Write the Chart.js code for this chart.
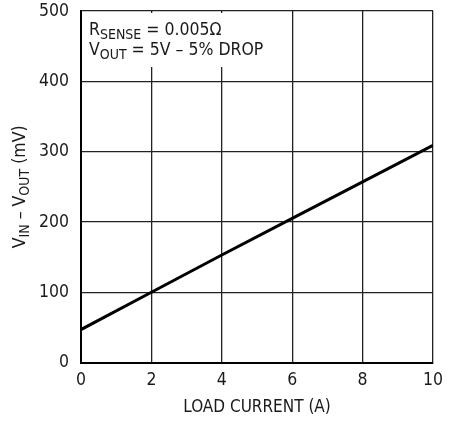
<!DOCTYPE html>
<html>
<head>
<meta charset="utf-8">
<script src="https://cdn.jsdelivr.net/npm/chart.js@4.4.0/dist/chart.umd.min.js"></script>
<style>
  html, body { margin: 0; padding: 0; background: #fff; }
  #wrap { width: 456px; height: 423px; }
</style>
</head>
<body>
<div id="wrap"><canvas id="myChart" width="456" height="423"></canvas></div>
<script>
// values
const loadCurrent = [0, 2, 4, 6, 8, 10];
const dropMv = [47, 100, 153, 205, 257, 309];
const xTicks = [0, 2, 4, 6, 8, 10];
const yTicks = [0, 100, 200, 300, 400, 500];

const FONT = "'Liberation Sans Narrow', 'DejaVu Sans Condensed', sans-serif";
const INK = "#1a1a1a";

// draws text with a subscript part, list of [text, isSub]
function drawParts(ctx, parts, x, y, size) {
  let cx = x;
  for (let p of parts) {
    ctx.font = (p[1] ? size * 0.8 : size) + "px " + FONT;
    ctx.fillText(p[0], cx, p[1] ? y + size * 0.25 : y);
    cx += ctx.measureText(p[0]).width;
  }
  return cx - x;
}
function partsWidth(ctx, parts, size) {
  let w = 0;
  for (let p of parts) {
    ctx.font = (p[1] ? size * 0.8 : size) + "px " + FONT;
    w += ctx.measureText(p[0]).width;
  }
  return w;
}

const labelsPlugin = {
  id: "labels",
  afterDraw(chart) {
    const ctx = chart.ctx;
    const area = chart.chartArea;
    ctx.save();
    ctx.fillStyle = INK;
    ctx.textBaseline = "alphabetic";

    // note box in top left
    ctx.fillStyle = "#fff";
    ctx.fillRect(area.left + 2, area.top + 2, 176, 54);
    ctx.fillStyle = INK;
    drawParts(ctx, [["R", false], ["SENSE", true], [" = 0.005\u03A9", false]], area.left + 8, area.top + 24, 17.5);
    drawParts(ctx, [["V", false], ["OUT", true], [" = 5V \u2013 5% DROP", false]], area.left + 8, area.top + 44, 17.5);

    // y axis title, rotated
    const yParts = [["V", false], ["IN", true], [" \u2013 V", false], ["OUT", true], [" (mV)", false]];
    const w = partsWidth(ctx, yParts, 17.5);
    ctx.translate(25, (area.top + area.bottom) / 2 + w / 2);
    ctx.rotate(-Math.PI / 2);
    drawParts(ctx, yParts, 0, 0, 17.5);
    ctx.restore();
  }
};

const config = {
  type: "scatter",
  data: {
    datasets: [
      {
        data: loadCurrent.map((x, i) => ({ x: x, y: dropMv[i] })),
        showLine: true,
        borderColor: "#000",
        borderWidth: 3,
        pointRadius: 0,
        tension: 0,
      },
    ],
  },
  options: {
    responsive: false,
    animation: false,
    layout: { padding: { top: 11, right: 23, bottom: 0, left: 0 } },
    plugins: { legend: { display: false }, tooltip: { enabled: false } },
    scales: {
      x: {
        type: "linear",
        min: 0,
        max: 10,
        afterBuildTicks: (s) => { s.ticks = xTicks.map((v) => ({ value: v })); },
        grid: { color: "#222", lineWidth: 1.3, drawTicks: false },
        border: { color: "#000", width: 2 },
        ticks: { color: INK, font: { family: FONT, size: 17.5 }, padding: 7, maxRotation: 0 },
        title: {
          display: true,
          text: "LOAD CURRENT (A)",
          color: INK,
          font: { family: FONT, size: 17 },
          padding: { top: 0, bottom: 5 },
        },
      },
      y: {
        type: "linear",
        min: 0,
        max: 500,
        afterBuildTicks: (s) => { s.ticks = yTicks.map((v) => ({ value: v })); },
        afterFit: (s) => { s.width = 81; s.paddingTop = 0; s.paddingBottom = 0; },
        grid: { color: "#222", lineWidth: 1.3, drawTicks: false },
        border: { color: "#000", width: 2 },
        ticks: { color: INK, font: { family: FONT, size: 17.5 }, padding: 12 },
      },
    },
  },
  plugins: [labelsPlugin],
};

const myChart = new Chart(document.getElementById("myChart"), config);
</script>
</body>
</html>
